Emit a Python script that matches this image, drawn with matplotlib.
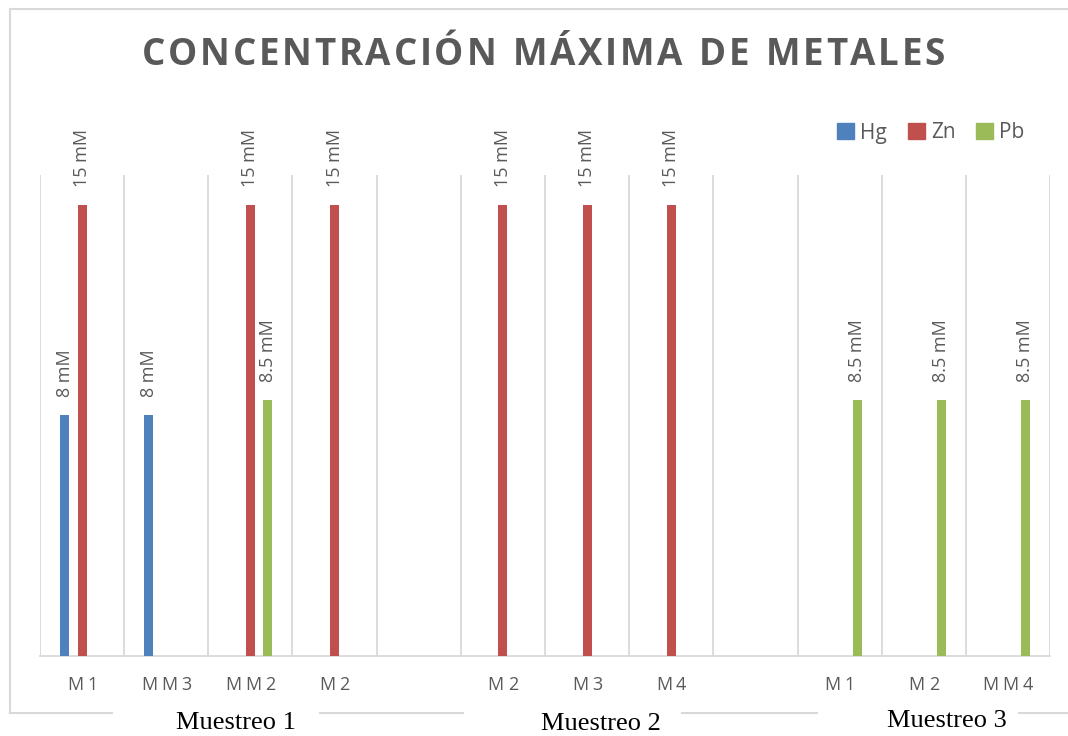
import matplotlib.pyplot as plt
import numpy as np
from matplotlib.lines import Line2D
from matplotlib.patches import Patch

# categories and series values (NaN = no bar)
categories = ['M1', 'MM3', 'MM2', 'M2', '', 'M2', 'M3', 'M4', '', 'M1', 'M2', 'MM4']
groups = ['Muestreo 1', 'Muestreo 2', 'Muestreo 3']
series = ['Hg', 'Zn', 'Pb']
hg = [8, 8, np.nan, np.nan, np.nan, np.nan, np.nan, np.nan, np.nan, np.nan, np.nan, np.nan]
zn = [15, np.nan, 15, 15, np.nan, 15, 15, 15, np.nan, np.nan, np.nan, np.nan]
pb = [np.nan, np.nan, 8.5, np.nan, np.nan, np.nan, np.nan, np.nan, np.nan, 8.5, 8.5, 8.5]
colors = ['#4F81BD', '#C0504D', '#9BBB59']
grey = '#595959'

W, H = 1068, 736
fig = plt.figure(figsize=(W / 100, H / 100), dpi=100)
ax = fig.add_axes([40 / W, 1 - 656 / H, 1010 / W, 481 / H])
renderer = fig.canvas.get_renderer()


def spaced_text(cx, cy, s, gap=None, width=None, **kw):
    # draw text letter by letter (pixel coords, y from top) to mimic Excel character spacing
    probe = fig.text(0, 0, 'n', **kw)
    space_w = probe.get_window_extent(renderer).width * 0.45
    probe.remove()
    arts = [fig.text(0, 1 - cy / H, ch, ha='left', va='center', **kw) for ch in s]
    ws = [a.get_window_extent(renderer).width if ch != ' ' else space_w
          for a, ch in zip(arts, s)]
    if width is not None:
        gap = (width - sum(ws)) / (len(s) - 1)
    total = sum(ws) + gap * (len(s) - 1)
    xpos = cx - total / 2
    for a, w in zip(arts, ws):
        a.set_x(xpos / W)
        xpos += w + gap


x = np.arange(len(categories))
width = 0.107
offsets = [-0.208, 0, 0.208]
for vals, off, col in zip([hg, zn, pb], offsets, colors):
    ax.bar(x + off, vals, width, color=col, zorder=3)
    for xi, v in zip(x + off, vals):
        if not np.isnan(v):
            ax.annotate(f'{v:g} mM', (xi, v), xytext=(0, 13), textcoords='offset points',
                        rotation=90, ha='center', va='bottom', fontsize=13,
                        color=grey, family='Open Sans')

ax.set_xlim(-0.5, len(categories) - 0.5)
ax.set_ylim(0, 16)
ax.set_yticks([])
ax.set_xticks(x)
ax.set_xticklabels([])
ax.tick_params(axis='x', length=0)
for b in np.arange(-0.5, len(categories), 1):
    ax.axvline(b, color='#D9D9D9', lw=1.3, zorder=1)
for s in ['top', 'left', 'right']:
    ax.spines[s].set_visible(False)
ax.spines['bottom'].set_color('#D9D9D9')
ax.spines['bottom'].set_linewidth(1.3)

# category labels, letter-spaced
for xi, lab in zip(x, categories):
    if lab:
        px = ax.transData.transform((xi, 0))[0]
        spaced_text(px, 685, lab, gap=4, fontsize=13, color=grey, family='Open Sans')

# title
spaced_text(543.5, 55, 'CONCENTRACIÓN MÁXIMA DE METALES', width=803,
            fontsize=26.5, fontweight='bold', color=grey, family='Open Sans')

# legend
handles = [Patch(color=c) for c in colors]
fig.legend(handles, series, loc='center', bbox_to_anchor=(931 / W, 1 - 133 / H),
           ncol=3, frameon=False, handlelength=0.8, handleheight=0.8,
           handletextpad=0.3, columnspacing=1.0, labelcolor=grey,
           prop={'family': 'Open Sans', 'size': 15})

# outer chart border (bottom line broken by group labels)
bc = '#D9D9D9'
segs = [((10, 10), (9, 713)), ((10, 1068), (9, 9)),
        ((10, 112), (713, 713)), ((320, 463), (713, 713)),
        ((682, 817), (713, 713)), ((1019, 1068), (713, 713))]
for (xs, ys) in segs:
    fig.add_artist(Line2D([v / W for v in xs], [1 - v / H for v in ys], color=bc, lw=1.5))

# group labels
for g, gx, gy in zip(groups, [236, 601, 947], [723, 724, 721]):
    fig.text(gx / W, 1 - gy / H, g, ha='center', va='center', fontsize=19,
             family='Liberation Serif', color='black')

fig.savefig('out.png', dpi=100)
